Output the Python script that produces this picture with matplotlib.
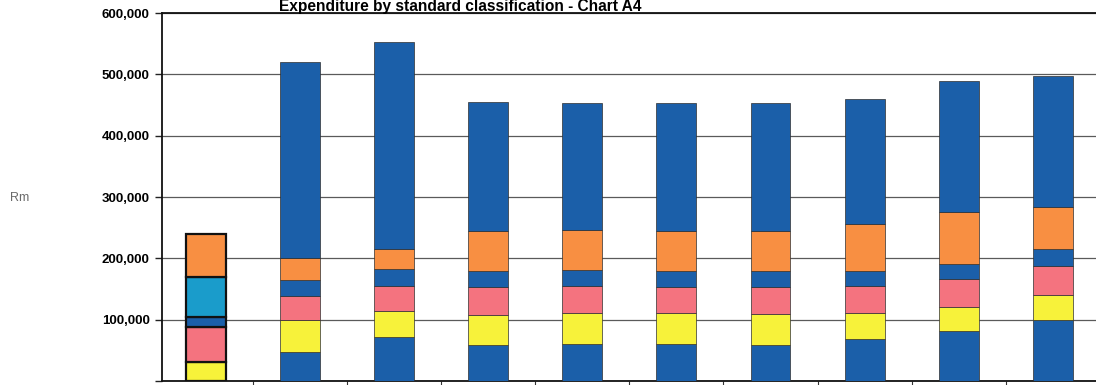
import numpy as np
import matplotlib
matplotlib.use("Agg")
import matplotlib.pyplot as plt

plt.rcParams['font.family'] = ['Liberation Sans', 'DejaVu Sans']

# stacked components per column (Rm), bottom to top
base_blue = [0, 47000, 71000, 58000, 61000, 60000, 58000, 68000, 82000, 100000]
yellow = [31000, 52000, 43000, 50000, 50000, 51000, 51000, 43000, 39000, 40000]
pink = [57000, 39000, 41000, 45000, 44000, 42000, 44000, 44000, 45000, 48000]
mid_blue = [16000, 27000, 28000, 27000, 26000, 27000, 26000, 25000, 25000, 28000]
teal = [66000, 0, 0, 0, 0, 0, 0, 0, 0, 0]
orange = [70000, 36000, 33000, 64000, 65000, 64000, 65000, 76000, 85000, 67000]
top_blue = [0, 319000, 336000, 211000, 208000, 209000, 209000, 204000, 213000, 214000]

yticks = [0, 100000, 200000, 300000, 400000, 500000, 600000]
ytick_labels = ['', '100,000', '200,000', '300,000', '400,000', '500,000', '600,000']

layers = [
    (base_blue, '#1b5fa9'),
    (yellow, '#f7f23a'),
    (pink, '#f4737f'),
    (mid_blue, '#1b5fa9'),
    (teal, '#1a9ccb'),
    (orange, '#f88f42'),
    (top_blue, '#1b5fa9'),
]

fig = plt.figure(figsize=(10.96, 3.85), dpi=100)
ax = fig.add_axes([162 / 1096, 4 / 385, 1 - 162 / 1096, 368 / 385])

x = np.arange(len(base_blue))
bottom = np.zeros(len(x))
for vals, col in layers:
    vals = np.array(vals, dtype=float)
    for i in range(len(x)):
        if vals[i] <= 0:
            continue
        # first column is boxed in heavier black lines
        if i == 0:
            ec, lw = '#111111', 1.6
        else:
            ec, lw = '#2f2f2f', 0.5
        ax.bar(x[i], vals[i], bottom=bottom[i], width=0.425, color=col,
               edgecolor=ec, linewidth=lw, zorder=3)
    bottom += vals

ax.set_ylim(0, 600000)
ax.set_xlim(-0.468, 9.46)
ax.set_yticks(yticks)
ax.set_yticklabels(ytick_labels, fontsize=9.5, fontweight='bold')
ax.yaxis.grid(True, color='#5a5a5a', linewidth=0.9, zorder=0)
ax.set_xticks(np.arange(len(x) - 1) + 0.5)
ax.set_xticklabels([])
ax.tick_params(axis='x', length=3, width=0.8, color='#333333')
ax.tick_params(axis='y', length=5, width=1.0, color='#222222', pad=4)

ax.spines['right'].set_visible(False)
for side in ['left', 'top', 'bottom']:
    ax.spines[side].set_linewidth(1.3)
    ax.spines[side].set_color('#111111')

fig.text(460 / 1096, 1 - 11.2 / 385, 'Expenditure by standard classification - Chart A4',
         ha='center', va='baseline', fontsize=11.2, fontweight='bold')
fig.text(20 / 1096, 1 - 198 / 385, 'Rm', ha='center', va='center',
         fontsize=9, color='#6a6a6a')

fig.savefig('out.png', dpi=100)
